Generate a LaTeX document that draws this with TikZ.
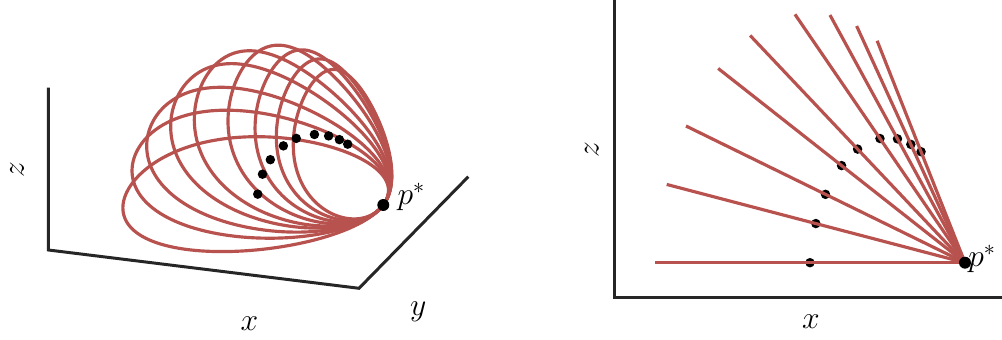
\documentclass[tikz,border=0pt]{standalone}
\usepackage{fix-cm}
\usepackage{tikz}
\usetikzlibrary{calc}
\definecolor{curvered}{RGB}{184,82,78}
\definecolor{axisgray}{RGB}{38,38,38}

\begin{document}
\begin{tikzpicture}[x=0.02cm,y=0.02cm,
    axisline/.style={line width=1.7pt,axisgray,line join=miter},
    orbit/.style={line width=1.8pt,curvered},
    lbl/.style={font=\fontsize{18}{22}\selectfont,inner sep=0pt}]
    \useasboundingbox (0,0) rectangle (1002,340);

    % Left panel: 3D axes
    \coordinate (zTop) at (48.3,252.3);
    \coordinate (cornerA) at (48.3,90);
    \coordinate (cornerB) at (359,51.7);
    \coordinate (yEnd) at (468.3,163.3);
    \draw[axisline] (zTop) -- (cornerA) -- (cornerB) -- (yEnd);
    \node[lbl,rotate=90] (zLeft) at (17,170) {$z$};
    \node[lbl] (xLeft) at (249.3,16.7) {$x$};
    \node[lbl] (yLeft) at (418.3,28.3) {$y$};

    % Left panel: circles through p* (angle/radius), seen in perspective
    \coordinate (pL) at (383.3,135);
    \begin{scope}[shift={(pL)}]
        \foreach \t/\r in {0/155,14.7/154.2,26.1/155.3,38.2/157,46.6/156.4,55.6/150.5,61.4/141,65.4/130.2,68.4/119.4}{
            \draw[orbit] plot[domain=0:360,samples=140]
                ({-0.81*\r*(1-cos(\x))*cos(\t)+\r*sin(\x)*(0.27-0.0008*\r*sin(\x))},
                 {0.07*\r*(1-cos(\x))*cos(\t)+0.52*\r*(1-cos(\x))*sin(\t)+0.364*\r*sin(\x)}) -- cycle;
        }
        \foreach \t/\r in {0/155,14.7/154.2,26.1/155.3,38.2/157,46.6/156.4,55.6/150.5,61.4/141,65.4/130.2,68.4/119.4}
            \fill ({-0.81*\r*cos(\t)},{0.07*\r*cos(\t)+0.52*\r*sin(\t)}) circle[radius=2.7pt];
    \end{scope}
    \fill (pL) circle[radius=3.4pt];
    \node[lbl,anchor=base west] (pLlabel) at ($(pL)+(14,0)$) {$p^*$};

    % Right panel: x-z view
    \coordinate (zAxisTop) at (614.7,340);
    \coordinate (cornerR) at (614.7,42);
    \coordinate (xAxisEnd) at (1002,42);
    \draw[axisline] (zAxisTop) -- (cornerR) -- (xAxisEnd);
    \node[lbl,rotate=90] (zRight) at (591.7,190) {$z$};
    \node[lbl] (xRight) at (811,18) {$x$};

    \coordinate (pR) at (965,77.3);
    \foreach \t/\l in {0/310,14.7/308.4,26.1/310.7,38.2/314.1,46.6/312.7,55.6/301,61.4/282.1,65.4/260.3,68.4/238.7}
        \fill ($(pR)+(180-\t:\l/2)$) circle[radius=2.7pt];
    \foreach \t/\l in {0/310,14.7/308.4,26.1/310.7,38.2/314.1,46.6/312.7,55.6/301,61.4/282.1,65.4/260.3,68.4/238.7}
        \draw[orbit] (pR) -- ++(180-\t:\l);
    \fill (pR) circle[radius=3.4pt];
    \node[lbl,anchor=base west] (pRlabel) at ($(pR)+(3,-4)$) {$p^*$};
\end{tikzpicture}
\end{document}
